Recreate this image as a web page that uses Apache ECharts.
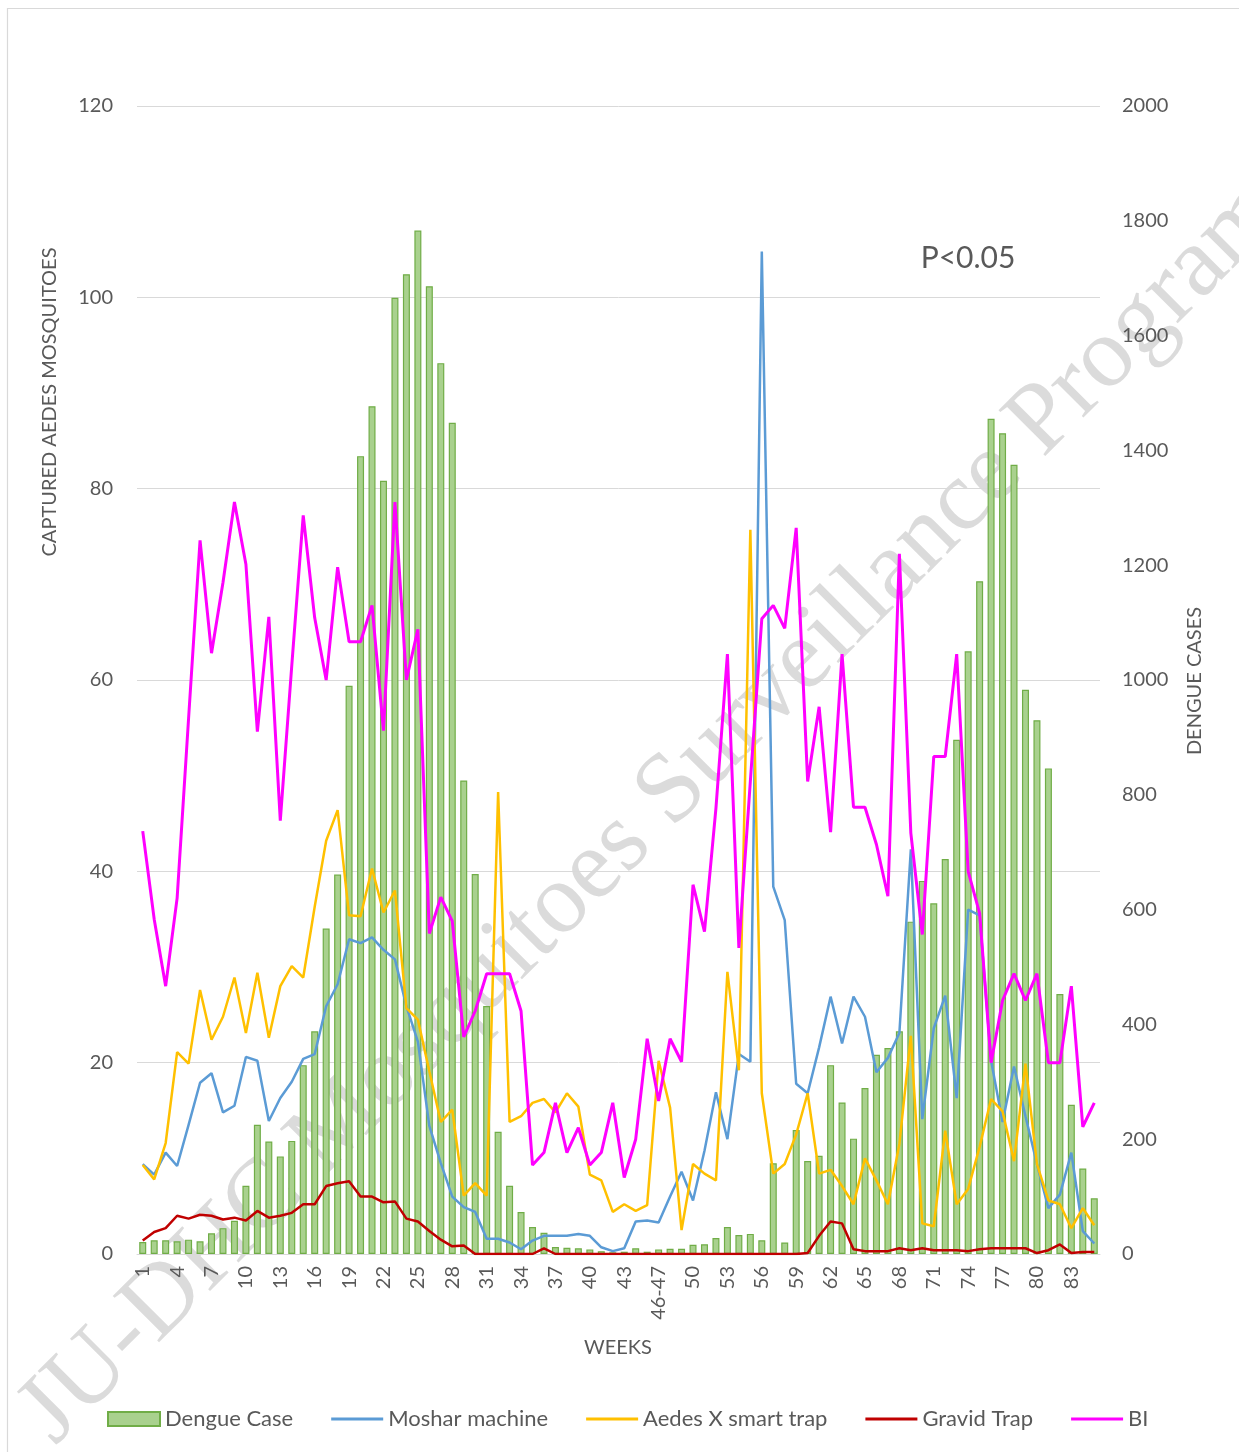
<!DOCTYPE html>
<html>
<head>
<meta charset="utf-8">
<script src="https://cdn.jsdelivr.net/npm/echarts@6/dist/echarts.min.js"></script>
<style>
html,body{margin:0;padding:0;background:#fff;}
#chart{width:1239px;height:1452px;}
</style>
</head>
<body>
<div id="chart"></div>
<script>
// Categories (weeks)
const weeks = [];
for (let w = 1; w <= 45; w++) weeks.push(String(w));
weeks.push('46-47');
for (let w = 48; w <= 85; w++) weeks.push(String(w));

const dengueCase = [21,24,24,22,25,22,36,45,58,119,225,196,170,197,329,388,567,661,990,1390,
  1477,1347,1666,1707,1783,1686,1552,1448,825,662,432,213,119,73,47,37,12,11,10,8,
  5,3,4,10,4,8,9,9,16,17,28,47,33,35,24,158,20,216,162,171,
  329,264,201,289,347,359,388,579,650,611,688,896,1050,1172,1455,1430,1375,983,930,846,
  453,260,149,97];

const mosharMachine = [9.4,8.3,10.6,9.2,13.5,17.9,18.9,14.8,15.5,20.6,20.2,13.9,16.3,18.0,20.4,20.9,25.9,28.2,32.9,32.5,
  33.1,31.8,30.8,25.9,22.2,13.4,9.5,6.0,4.9,4.4,1.6,1.6,1.2,0.5,1.4,1.9,1.9,1.9,2.1,1.9,
  0.7,0.3,0.6,3.4,3.5,3.3,6.0,8.6,5.6,10.8,16.9,12.0,20.9,20.1,104.8,38.4,34.9,17.8,16.8,21.6,
  26.9,22.0,26.9,24.8,19.0,20.5,23.1,42.3,14.1,23.6,27.0,16.3,36.0,35.4,20.2,13.8,19.6,14.4,9.4,4.8,
  6.2,10.6,2.4,1.1];

const aedesX = [9.3,7.8,11.6,21.1,19.9,27.6,22.4,24.8,28.9,23.1,29.4,22.6,28.0,30.1,28.9,36.3,43.2,46.4,35.4,35.3,
  40.3,35.7,38.0,25.7,24.5,19.1,13.8,15.1,6.1,7.4,6.1,48.3,13.8,14.4,15.8,16.2,14.8,16.8,15.4,8.3,
  7.7,4.4,5.2,4.5,5.1,20.2,15.3,2.5,9.4,8.4,7.7,29.5,19.2,75.7,16.8,8.4,9.4,12.5,16.8,8.4,
  8.8,7.1,5.2,10.0,7.7,5.2,11.5,22.8,3.2,2.9,12.9,5.2,6.8,11.2,16.2,14.9,9.7,19.9,9.4,5.6,
  5.2,2.7,4.8,3.0];

const gravidTrap = [1.4,2.3,2.7,4.0,3.7,4.1,4.0,3.6,3.8,3.5,4.5,3.8,4.0,4.3,5.2,5.2,7.1,7.4,7.6,6.0,
  6.0,5.4,5.5,3.7,3.4,2.4,1.5,0.8,0.9,0,0,0,0,0,0,0.6,0,0,0,0,
  0,0,0,0,0,0,0,0,0,0,0,0,0,0,0,0,0,0,0.1,1.9,
  3.4,3.2,0.5,0.3,0.3,0.3,0.6,0.4,0.6,0.4,0.4,0.4,0.3,0.5,0.6,0.6,0.6,0.6,0.1,0.4,
  1.0,0.1,0.2,0.2];

const bi = [44.2,35.0,28.0,37.2,56,74.6,62.8,70.2,78.6,72.1,54.6,66.6,45.3,61.5,77.2,66.5,60.0,71.8,64.0,64.0,
  67.8,54.7,78.6,60.0,65.3,33.5,37.3,34.8,22.7,25.4,29.3,29.3,29.3,25.4,9.3,10.6,15.8,10.6,13.2,9.3,
  10.6,15.8,8.0,12.0,22.5,16.0,22.5,20.1,38.6,33.7,46.6,62.7,32.0,49.4,66.4,67.8,65.4,75.9,49.4,57.2,
  44.1,62.7,46.7,46.7,42.8,37.4,73.2,44.0,33.4,52.0,52.0,62.7,40.0,35.6,20.0,26.5,29.3,26.5,29.3,20.0,
  20.0,28.0,13.3,15.8];

const FONT = 'Lato, "Open Sans", sans-serif';
const TXT = '#595959';
const LINE_ICON = 'path://M0,0 L52,0 L52,3 L0,3 Z';

const chart = echarts.init(document.getElementById('chart'), null, {renderer: 'canvas'});
chart.setOption({
  backgroundColor: '#ffffff',
  animation: false,
  textStyle: {fontFamily: FONT},
  grid: {left: 137, right: 139, top: 106, bottom: 198, containLabel: false},
  legend: {
    left: 107, top: 1408, padding: 0,
    itemWidth: 52, itemHeight: 14, itemGap: 38,
    symbolKeepAspect: true,
    textStyle: {color: TXT, fontSize: 22, fontFamily: FONT, padding: [0,0,0,0]},
    data: [
      {name: 'Dengue Case', icon: 'rect'},
      {name: 'Moshar machine', icon: LINE_ICON},
      {name: 'Aedes X smart trap', icon: LINE_ICON},
      {name: 'Gravid Trap', icon: LINE_ICON},
      {name: 'BI', icon: LINE_ICON}
    ]
  },
  xAxis: {
    type: 'category',
    data: weeks,
    boundaryGap: true,
    axisLine: {show: true, lineStyle: {color: '#d9d9d9', width: 1}},
    axisTick: {show: false},
    axisLabel: {interval: 2, rotate: 90, color: TXT, fontSize: 20, fontFamily: FONT, margin: 12}
  },
  yAxis: [
    {
      type: 'value', min: 0, max: 120, interval: 20,
      axisLine: {show: false}, axisTick: {show: false},
      axisLabel: {color: TXT, fontSize: 20, fontFamily: FONT, margin: 24},
      splitLine: {show: true, lineStyle: {color: '#d9d9d9', width: 1}}
    },
    {
      type: 'value', min: 0, max: 2000, interval: 200,
      axisLine: {show: false}, axisTick: {show: false},
      axisLabel: {color: TXT, fontSize: 20, fontFamily: FONT, margin: 22, formatter: function (v) { return String(v); }},
      splitLine: {show: false}
    }
  ],
  series: [
    {
      name: 'Dengue Case', type: 'bar', yAxisIndex: 1, data: dengueCase,
      barWidth: 7,
      itemStyle: {color: '#a9d18e', borderColor: '#70ad47', borderWidth: 1.2},
      z: 2
    },
    {
      name: 'Moshar machine', type: 'line', data: mosharMachine,
      symbol: 'none', lineStyle: {color: '#5b9bd5', width: 2.5}, itemStyle: {color: '#5b9bd5'}, z: 3
    },
    {
      name: 'Aedes X smart trap', type: 'line', data: aedesX,
      symbol: 'none', lineStyle: {color: '#ffc000', width: 2.5}, itemStyle: {color: '#ffc000'}, z: 3
    },
    {
      name: 'Gravid Trap', type: 'line', data: gravidTrap,
      symbol: 'none', lineStyle: {color: '#c00000', width: 2.5}, itemStyle: {color: '#c00000'}, z: 3
    },
    {
      name: 'BI', type: 'line', data: bi,
      symbol: 'none', lineStyle: {color: '#ff00ff', width: 3}, itemStyle: {color: '#ff00ff'}, z: 3
    }
  ],
  graphic: [
    {
      type: 'rect', z: -10, silent: true,
      shape: {x: 7.5, y: 8.5, width: 1400, height: 1600},
      style: {fill: 'none', stroke: '#d9d9d9', lineWidth: 1.2}
    },
    {
      type: 'text', z: 0, silent: true,
      x: 652, y: 812, rotation: Math.PI / 4,
      style: {
        text: 'JU-DHC Mosquitoes Surveillance Program',
        font: '100px "Liberation Serif", "DejaVu Serif", serif',
        fill: 'rgba(170,170,170,0.42)',
        align: 'center', verticalAlign: 'middle'
      }
    },
    {
      type: 'text', silent: true,
      x: 50, y: 402, rotation: Math.PI / 2,
      style: {text: 'CAPTURED AEDES MOSQUITOES', font: '20px ' + FONT, fill: TXT, align: 'center', verticalAlign: 'middle'}
    },
    {
      type: 'text', silent: true,
      x: 1195, y: 681, rotation: Math.PI / 2,
      style: {text: 'DENGUE CASES', font: '20px ' + FONT, fill: TXT, align: 'center', verticalAlign: 'middle'}
    },
    {
      type: 'text', silent: true,
      x: 618, y: 1348,
      style: {text: 'WEEKS', font: '20px ' + FONT, fill: TXT, align: 'center', verticalAlign: 'middle'}
    },
    {
      type: 'text', silent: true,
      x: 968, y: 258,
      style: {text: 'P<0.05', font: '30px ' + FONT, fill: TXT, align: 'center', verticalAlign: 'middle'}
    }
  ]
});
</script>
</body>
</html>
